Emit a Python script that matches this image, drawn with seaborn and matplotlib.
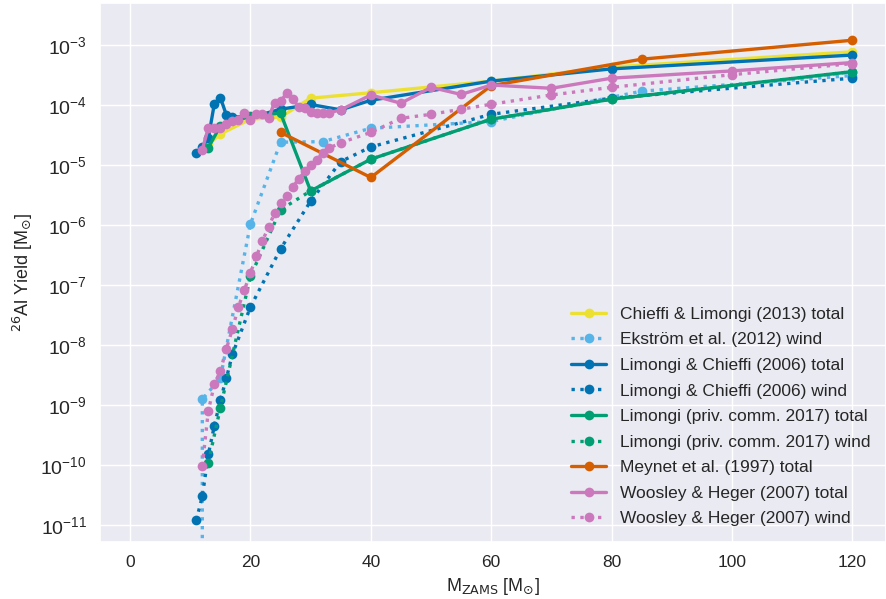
import numpy as np
import pandas as pd
import matplotlib
matplotlib.use("Agg")
import matplotlib.pyplot as plt
import seaborn as sns

# --- yields of 26Al [Msun] versus initial mass [Msun] ---
cl13_mass = [13, 15, 20, 25, 30, 40, 60, 80, 120]
cl13_total = [2.2e-5, 3.3e-5, 5.8e-5, 6.3e-5, 1.3e-4, 1.6e-4, 2.5e-4, 4.3e-4, 7.7e-4]

ek12_mass = [12, 12, 15, 20, 25, 32, 40, 60, 85, 120]
ek12_wind = [1e-15, 1.25e-9, 2.8e-9, 1.04e-6, 2.4e-5, 2.45e-5, 4.1e-5, 5.3e-5, 1.7e-4, 3.1e-4]

lc06_mass = [11, 12, 13, 14, 15, 16, 17, 20, 25, 30, 35, 40, 60, 80, 120]
lc06_total = [1.6e-5, 2.0e-5, 2.8e-5, 1.05e-4, 1.33e-4, 6.8e-5, 6.4e-5, 6.2e-5, 8.5e-5,
              1.02e-4, 8.3e-5, 1.2e-4, 2.5e-4, 4.0e-4, 6.8e-4]
lc06_wind = [1.2e-11, 3.0e-11, 1.5e-10, 4.5e-10, 1.2e-9, 2.8e-9, 7.0e-9, 4.3e-8, 4.0e-7,
             2.5e-6, 1.14e-5, 2.0e-5, 7.0e-5, 1.3e-4, 2.8e-4]

l17_mass = [13, 15, 20, 25, 30, 40, 60, 80, 120]
l17_total = [1.95e-5, 4.5e-5, 6.5e-5, 7.3e-5, 3.7e-6, 1.25e-5, 5.8e-5, 1.25e-4, 3.6e-4]
l17_wind = [1.1e-10, 9.0e-10, 1.4e-7, 1.8e-6, 3.7e-6, 1.25e-5, 5.8e-5, 1.25e-4, 3.6e-4]

m97_mass = [25, 40, 60, 85, 120]
m97_total = [3.5e-5, 6.2e-6, 2.1e-4, 5.8e-4, 1.2e-3]

wh07_mass = [12, 13, 14, 15, 16, 17, 18, 19, 20, 21, 22, 23, 24, 25, 26, 27, 28, 29,
             30, 31, 32, 33, 35, 40, 45, 50, 55, 60, 70, 80, 100, 120]
wh07_total = [1.8e-5, 4.2e-5, 4.2e-5, 4.1e-5, 4.8e-5, 5.4e-5, 5.6e-5, 7.3e-5, 5.6e-5,
              7.0e-5, 7.0e-5, 6.0e-5, 1.1e-4, 1.15e-4, 1.57e-4, 1.25e-4, 9.4e-5, 8.8e-5,
              7.7e-5, 7.3e-5, 7.3e-5, 7.4e-5, 8.3e-5, 1.47e-4, 1.07e-4, 1.97e-4, 1.5e-4,
              2.15e-4, 1.9e-4, 2.8e-4, 3.7e-4, 5.1e-4]
wh07_wind = [9.7e-11, 8.0e-10, 2.2e-9, 3.7e-9, 8.6e-9, 1.85e-8, 4.3e-8, 8.3e-8, 1.6e-7,
             3.0e-7, 5.5e-7, 9.1e-7, 1.58e-6, 2.35e-6, 3.0e-6, 4.3e-6, 5.8e-6, 7.8e-6,
             1.0e-5, 1.2e-5, 1.6e-5, 1.9e-5, 2.35e-5, 3.5e-5, 6.0e-5, 7.0e-5, 8.5e-5,
             1.03e-4, 1.47e-4, 1.97e-4, 3.2e-4, 4.9e-4]

mass_ticks = [0, 20, 40, 60, 80, 100, 120]
yield_ticks = [1e-11, 1e-10, 1e-9, 1e-8, 1e-7, 1e-6, 1e-5, 1e-4, 1e-3]

sns.set_theme(style="darkgrid", context="notebook")
plt.rcParams["font.family"] = ["Liberation Sans", "DejaVu Sans"]
plt.rcParams["mathtext.fontset"] = "dejavusans"

cb = sns.color_palette("colorblind")
series = [
    ("Chieffi & Limongi (2013) total", cl13_mass, cl13_total, cb[8], "-"),
    ("Ekstr\u00f6m et al. (2012) wind", ek12_mass, ek12_wind, cb[9], ":"),
    ("Limongi & Chieffi (2006) total", lc06_mass, lc06_total, cb[0], "-"),
    ("Limongi & Chieffi (2006) wind", lc06_mass, lc06_wind, cb[0], ":"),
    ("Limongi (priv. comm. 2017) total", l17_mass, l17_total, cb[2], "-"),
    ("Limongi (priv. comm. 2017) wind", l17_mass, l17_wind, cb[2], ":"),
    ("Meynet et al. (1997) total", m97_mass, m97_total, cb[3], "-"),
    ("Woosley & Heger (2007) total", wh07_mass, wh07_total, cb[4], "-"),
    ("Woosley & Heger (2007) wind", wh07_mass, wh07_wind, cb[4], ":"),
]

fig = plt.figure(figsize=(8.86, 5.99), dpi=100)
ax = fig.add_axes([100 / 886, 1 - 542 / 599, 786 / 886, 539 / 599])

for label, m, y, col, ls in series:
    df = pd.DataFrame({"mass": m, "yield": y})
    sns.lineplot(data=df, x="mass", y="yield", ax=ax, color=col, linestyle=ls,
                 linewidth=2.4, marker="o", markersize=7, markeredgewidth=0,
                 markeredgecolor=col, estimator=None, sort=False, label=label)

ax.set_yscale("log")
ax.set_yticks(yield_ticks)
ax.yaxis.set_minor_locator(matplotlib.ticker.NullLocator())
ax.set_ylim(10 ** -11.283, 10 ** -2.3)
ax.set_xticks(mass_ticks)
ax.set_xlim(-5, 125.6)
ax.tick_params(axis="x", labelsize=12.5)
ax.tick_params(axis="y", labelsize=14)
ax.set_xlabel(r"M$_{\mathrm{ZAMS}}$ [M$_{\odot}$]", fontsize=13)
ax.set_ylabel(r"$^{26}$Al Yield [M$_{\odot}$]", fontsize=13)

ax.legend(loc="lower right", fontsize=12.5, labelspacing=0.6, frameon=False)

fig.savefig("out.png", dpi=100)
